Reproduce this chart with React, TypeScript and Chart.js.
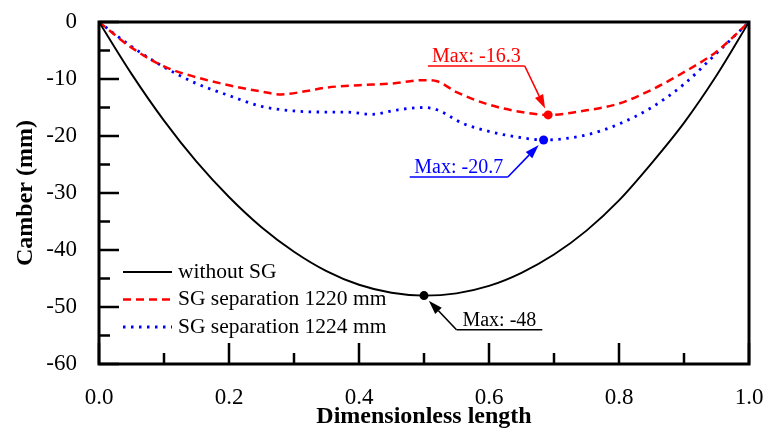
import React, { useEffect, useRef } from "react";
import { Chart, registerables } from "chart.js";

Chart.register(...registerables);

const FONT = "'Liberation Serif', 'Times New Roman', Times, serif";

// ---- data ----
const seriesNames = ["without SG", "SG separation 1220 mm", "SG separation 1224 mm"];
const seriesColors = ["#000000", "#ff0000", "#0000ff"];

const blackX = [0, 0.05, 0.1, 0.15, 0.2, 0.25, 0.3, 0.35, 0.4, 0.45, 0.5, 0.55, 0.6, 0.65, 0.7, 0.75, 0.8, 0.85, 0.9, 0.95, 1.0];
const blackY = [0, -9.1, -17.3, -24.5, -30.7, -36.0, -40.3, -43.7, -46.1, -47.5, -48.0, -47.6, -46.3, -44.0, -40.8, -36.6, -31.3, -24.8, -17.7, -9.4, 0];

const redX = [0, 0.05, 0.1, 0.15, 0.2, 0.25, 0.28, 0.32, 0.35, 0.4, 0.45, 0.5, 0.52, 0.55, 0.6, 0.65, 0.69, 0.75, 0.8, 0.85, 0.9, 0.95, 1.0];
const redY = [0, -4.5, -7.8, -9.7, -11.1, -12.2, -12.7, -12.1, -11.5, -11.1, -10.8, -10.2, -10.4, -12.3, -14.5, -15.8, -16.3, -15.5, -14.3, -11.9, -8.8, -5.2, 0];

const blueX = [0, 0.05, 0.1, 0.15, 0.2, 0.25, 0.3, 0.35, 0.38, 0.42, 0.46, 0.5, 0.52, 0.56, 0.6, 0.65, 0.684, 0.75, 0.8, 0.85, 0.9, 0.95, 1.0];
const blueY = [0, -4.3, -7.9, -10.8, -12.9, -14.8, -15.6, -15.8, -15.8, -16.2, -15.4, -15.0, -15.4, -17.8, -19.2, -20.3, -20.7, -19.8, -17.9, -15.0, -10.9, -5.5, 0];

// maxima markers: black, red, blue
const markerX = [0.5, 0.691, 0.684];
const markerY = [-48, -16.3, -20.7];
const markerLabels = ["Max: -48", "Max: -16.3", "Max: -20.7"];

const xMajorTicks = [0, 0.2, 0.4, 0.6, 0.8, 1.0];
const xMinorTicks = [0.1, 0.3, 0.5, 0.7, 0.9];
const yMajorTicks = [0, -10, -20, -30, -40, -50, -60];
const yMinorTicks = [-5, -15, -25, -35, -45, -55];

// annotation leader lines (data coords): underline x1..x2 at y, elbow end
const noteX1 = [0.55, 0.506, 0.478];
const noteX2 = [0.682, 0.655, 0.629];
const noteY = [-54.0, -7.72, -27.2];
const noteElbow = ["left", "right", "right"];

const toPts = (xs: number[], ys: number[]) => xs.map((x, i) => ({ x, y: ys[i] }));

const zeroPad = (s: any) => {
  s.paddingTop = 0;
  s.paddingBottom = 0;
  s.paddingLeft = 0;
  s.paddingRight = 0;
};

const lineDashes = [[], [8, 5], [2.5, 5.5]];
const lineWidths = [1.9, 2.5, 2.8];

const overlayPlugin = {
  id: "overlay",
  afterDatasetsDraw(chart: any) {
    const { ctx, chartArea: a, scales } = chart;
    const xs = scales.x;
    const ys = scales.y;
    ctx.save();

    // inward ticks
    ctx.strokeStyle = "#000";
    ctx.lineWidth = 2.5;
    ctx.lineCap = "butt";
    const line = (x1: number, y1: number, x2: number, y2: number) => {
      ctx.beginPath();
      ctx.moveTo(x1, y1);
      ctx.lineTo(x2, y2);
      ctx.stroke();
    };
    yMajorTicks.forEach((v) => {
      const p = ys.getPixelForValue(v);
      line(a.left, p, a.left + 20, p);
    });
    yMinorTicks.forEach((v) => {
      const p = ys.getPixelForValue(v);
      line(a.left, p, a.left + 11, p);
    });
    xMajorTicks.forEach((v) => {
      const p = xs.getPixelForValue(v);
      line(p, a.bottom, p, a.bottom - 21);
    });
    xMinorTicks.forEach((v) => {
      const p = xs.getPixelForValue(v);
      line(p, a.bottom, p, a.bottom - 11);
    });

    // frame
    ctx.lineWidth = 3;
    ctx.strokeRect(a.left, a.top, a.right - a.left, a.bottom - a.top);

    // legend
    ctx.font = `21.5px ${FONT}`;
    ctx.textBaseline = "middle";
    ctx.textAlign = "left";
    seriesNames.forEach((name, i) => {
      const yy = a.top + 250 + i * 27.5;
      ctx.strokeStyle = seriesColors[i];
      ctx.lineWidth = lineWidths[i];
      ctx.setLineDash(lineDashes[i]);
      line(a.left + 24, yy, a.left + 73, yy);
      ctx.setLineDash([]);
      ctx.fillStyle = "#000";
      ctx.fillText(name, a.left + 79, yy);
    });

    // annotations
    markerLabels.forEach((label, i) => {
      const color = seriesColors[i];
      const px1 = xs.getPixelForValue(noteX1[i]);
      const px2 = xs.getPixelForValue(noteX2[i]);
      const py = ys.getPixelForValue(noteY[i]);
      const mx = xs.getPixelForValue(markerX[i]);
      const my = ys.getPixelForValue(markerY[i]);
      ctx.strokeStyle = color;
      ctx.fillStyle = color;
      ctx.lineWidth = 1.6;
      line(px1, py, px2, py);
      const ex = noteElbow[i] === "left" ? px1 : px2;
      const dx = mx - ex;
      const dy = my - py;
      const len = Math.sqrt(dx * dx + dy * dy);
      const ux = dx / len;
      const uy = dy / len;
      const tipX = mx - ux * 7;
      const tipY = my - uy * 7;
      const headLen = 14;
      const headW = 4.5;
      const bx = tipX - ux * headLen;
      const by = tipY - uy * headLen;
      line(ex, py, bx, by);
      ctx.beginPath();
      ctx.moveTo(tipX, tipY);
      ctx.lineTo(bx - uy * headW, by + ux * headW);
      ctx.lineTo(bx + uy * headW, by - ux * headW);
      ctx.closePath();
      ctx.fill();
      ctx.font = `20px ${FONT}`;
      ctx.textAlign = "center";
      ctx.textBaseline = "alphabetic";
      ctx.fillText(label, (px1 + px2) / 2, py - 4);
    });

    ctx.restore();
  },
};

export default function App() {
  const ref = useRef<HTMLCanvasElement>(null);

  useEffect(() => {
    if (!ref.current) return;
    Chart.defaults.color = "#000";
    const chart = new Chart(ref.current, {
      type: "line",
      data: {
        datasets: [
          {
            label: seriesNames[0],
            data: toPts(blackX, blackY),
            borderColor: seriesColors[0],
            borderWidth: lineWidths[0],
            pointRadius: 0,
            cubicInterpolationMode: "monotone",
          },
          {
            label: seriesNames[1],
            data: toPts(redX, redY),
            borderColor: seriesColors[1],
            borderWidth: lineWidths[1],
            borderDash: lineDashes[1],
            pointRadius: 0,
            cubicInterpolationMode: "monotone",
          },
          {
            label: seriesNames[2],
            data: toPts(blueX, blueY),
            borderColor: seriesColors[2],
            borderWidth: lineWidths[2],
            borderDash: lineDashes[2],
            pointRadius: 0,
            cubicInterpolationMode: "monotone",
          },
          {
            label: "markers",
            data: toPts(markerX, markerY),
            showLine: false,
            pointRadius: 4.5,
            pointBorderWidth: 0,
            pointBackgroundColor: seriesColors,
            pointBorderColor: seriesColors,
          },
        ],
      } as any,
      options: {
        animation: false,
        responsive: true,
        maintainAspectRatio: false,
        layout: { padding: { left: 0, top: 22, right: 17, bottom: 0 } },
        plugins: { legend: { display: false }, tooltip: { enabled: false } },
        scales: {
          x: {
            type: "linear",
            min: 0,
            max: 1,
            grid: { display: false },
            border: { display: false },
            afterFit: (s: any) => {
              s.height = 66;
              zeroPad(s);
            },
            ticks: {
              stepSize: 0.2,
              autoSkip: false,
              maxRotation: 0,
              padding: 12,
              font: { family: FONT, size: 23 },
              color: "#000",
              callback: (v: any) => Number(v).toFixed(1),
            },
            title: {
              display: true,
              text: "Dimensionless length",
              font: { family: FONT, size: 24, weight: "bold", lineHeight: 1 },
              color: "#000",
              padding: { top: 0, bottom: 1 },
            },
          },
          y: {
            type: "linear",
            min: -60,
            max: 0,
            grid: { display: false },
            border: { display: false },
            afterFit: (s: any) => {
              s.width = 99;
              zeroPad(s);
            },
            ticks: {
              stepSize: 10,
              autoSkip: false,
              padding: 14,
              font: { family: FONT, size: 23 },
              color: "#000",
              callback: (v: any) => String(v),
            },
            title: {
              display: true,
              text: "Camber (mm)",
              font: { family: FONT, size: 24, weight: "bold", lineHeight: 1 },
              color: "#000",
              padding: { top: 14, bottom: 0 },
            },
          },
        },
      } as any,
      plugins: [overlayPlugin],
    });
    return () => chart.destroy();
  }, []);

  return (
    <div style={{ position: "fixed", left: 0, top: 0, width: 766, height: 430, background: "#fff" }}>
      <canvas ref={ref} />
    </div>
  );
}
